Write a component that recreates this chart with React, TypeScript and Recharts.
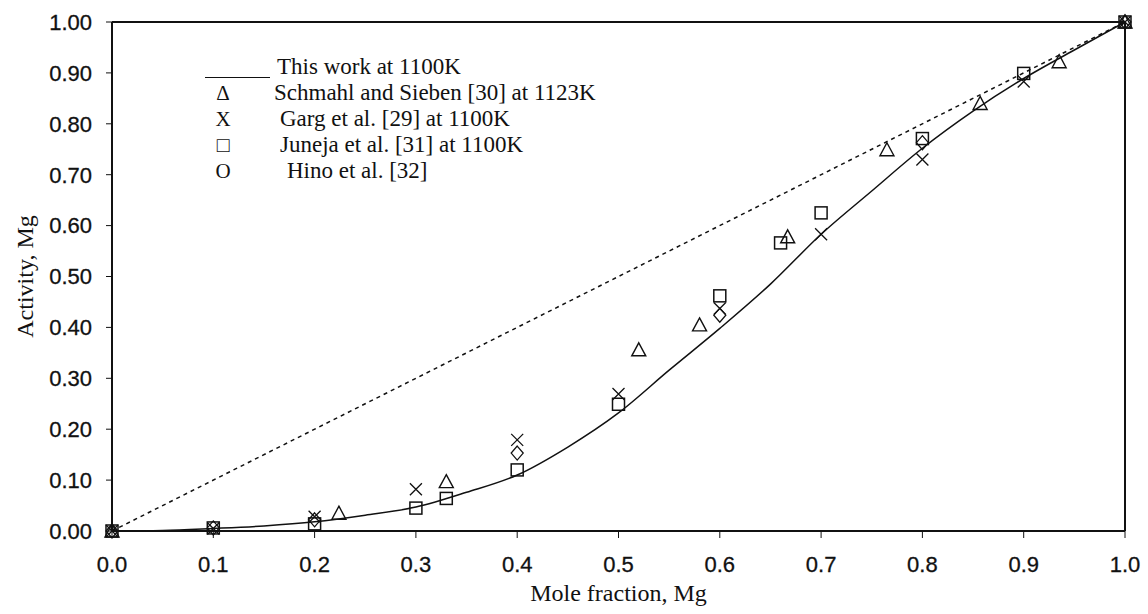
import React from "react";
import {
  ScatterChart,
  Scatter,
  XAxis,
  YAxis,
  ReferenceLine,
  Label,
} from "recharts";

// model curve, this work at 1100K
const curveX = [0, 0.05, 0.1, 0.15, 0.2, 0.25, 0.3, 0.35, 0.4, 0.45, 0.5, 0.55, 0.6, 0.65, 0.7, 0.75, 0.8, 0.85, 0.9, 0.95, 1.0];
const curveY = [0, 0.001, 0.005, 0.01, 0.018, 0.031, 0.047, 0.076, 0.11, 0.165, 0.232, 0.316, 0.398, 0.485, 0.583, 0.668, 0.752, 0.825, 0.889, 0.945, 1.0];

// ideal (Raoult) line
const idealX = [0, 1];
const idealY = [0, 1];

// Schmahl and Sieben [30] at 1123K
const schmahlX = [0, 0.224, 0.33, 0.52, 0.58, 0.667, 0.765, 0.857, 0.935, 1.0];
const schmahlY = [0, 0.035, 0.097, 0.356, 0.405, 0.578, 0.749, 0.84, 0.922, 1.0];

// Garg et al. [29] at 1100K
const gargX = [0, 0.1, 0.2, 0.3, 0.4, 0.5, 0.6, 0.7, 0.8, 0.9, 1.0];
const gargY = [0, 0.005, 0.028, 0.082, 0.179, 0.269, 0.437, 0.583, 0.73, 0.883, 1.0];

// Juneja et al. [31] at 1100K
const junejaX = [0, 0.1, 0.2, 0.3, 0.33, 0.4, 0.5, 0.6, 0.66, 0.7, 0.8, 0.9, 1.0];
const junejaY = [0, 0.006, 0.014, 0.045, 0.064, 0.12, 0.249, 0.462, 0.566, 0.625, 0.771, 0.899, 1.0];

// Hino et al. [32]
const hinoX = [0, 0.1, 0.2, 0.4, 0.6, 0.8, 1.0];
const hinoY = [0, 0.006, 0.022, 0.153, 0.424, 0.763, 1.0];

const xTicks = [0, 0.1, 0.2, 0.3, 0.4, 0.5, 0.6, 0.7, 0.8, 0.9, 1.0];
const yTicks = [0, 0.1, 0.2, 0.3, 0.4, 0.5, 0.6, 0.7, 0.8, 0.9, 1.0];

const legendRows = [
  { sym: "Δ", text: "Schmahl and Sieben [30] at 1123K", indent: 274 },
  { sym: "X", text: "Garg et al. [29] at 1100K", indent: 280 },
  { sym: "□", text: "Juneja et al. [31] at 1100K", indent: 280 },
  { sym: "O", text: "Hino et al. [32]", indent: 287 },
];

const toPoints = (xs: number[], ys: number[]) => xs.map((x, i) => ({ x, y: ys[i] }));

const serif = "'Liberation Serif', 'Times New Roman', serif";
const sans = "'Liberation Sans', Arial, sans-serif";
const ink = "#111";

const Triangle = (p: any) => (
  <path
    d={`M${p.cx},${p.cy - 7} L${p.cx + 7},${p.cy + 6} L${p.cx - 7},${p.cy + 6} Z`}
    fill="none"
    stroke={ink}
    strokeWidth={1.4}
  />
);

const Cross = (p: any) => (
  <path
    d={`M${p.cx - 6},${p.cy - 6} L${p.cx + 6},${p.cy + 6} M${p.cx + 6},${p.cy - 6} L${p.cx - 6},${p.cy + 6}`}
    stroke={ink}
    strokeWidth={1.3}
  />
);

const Square = (p: any) => (
  <rect x={p.cx - 6} y={p.cy - 6} width={12} height={12} fill="none" stroke={ink} strokeWidth={1.5} />
);

const Diamond = (p: any) => (
  <path
    d={`M${p.cx},${p.cy - 7} L${p.cx + 6},${p.cy} L${p.cx},${p.cy + 7} L${p.cx - 6},${p.cy} Z`}
    fill="none"
    stroke={ink}
    strokeWidth={1.3}
  />
);

const NoDot = () => <g />;

const tickStyle = { fill: ink, fontSize: 22, fontFamily: sans, stroke: ink, strokeWidth: 0.3 };

const ROW = 26;
const legendText = {
  position: "absolute" as const,
  fontFamily: serif,
  fontSize: 23,
  lineHeight: `${ROW}px`,
  height: ROW,
  color: ink,
  whiteSpace: "nowrap" as const,
};

export default function App() {
  return (
    <div style={{ position: "absolute", left: 0, top: 0, width: 1148, height: 614, background: "#fff" }}>
      <ScatterChart width={1148} height={614} margin={{ top: 22, right: 23, bottom: 43, left: 12 }}>
        <XAxis
          type="number"
          dataKey="x"
          domain={[0, 1]}
          ticks={xTicks}
          tickFormatter={(v: number) => v.toFixed(1)}
          interval={0}
          height={40}
          tickSize={7}
          tickMargin={18}
          axisLine={{ stroke: ink, strokeWidth: 2 }}
          tickLine={{ stroke: ink }}
          tick={tickStyle}
        >
          <Label
            value="Mole fraction, Mg"
            position="bottom"
            offset={13}
            style={{ fill: ink, fontSize: 24, fontFamily: serif }}
          />
        </XAxis>
        <YAxis
          type="number"
          dataKey="y"
          domain={[0, 1]}
          ticks={yTicks}
          tickFormatter={(v: number) => v.toFixed(2)}
          interval={0}
          width={100}
          tickSize={6}
          tickMargin={14}
          axisLine={{ stroke: ink, strokeWidth: 2 }}
          tickLine={{ stroke: ink }}
          tick={tickStyle}
        >
          <Label
            value="Activity, Mg"
            angle={-90}
            position="insideLeft"
            offset={12}
            style={{ fill: ink, fontSize: 24, fontFamily: serif, textAnchor: "middle" }}
          />
        </YAxis>

        {/* plot frame: top and right edges */}
        <ReferenceLine y={1} stroke={ink} strokeWidth={2} />
        <ReferenceLine x={1} stroke={ink} strokeWidth={2} />

        <Scatter
          data={toPoints(idealX, idealY)}
          line={{ stroke: ink, strokeWidth: 1.5, strokeDasharray: "4 4" }}
          shape={NoDot}
          isAnimationActive={false}
        />
        <Scatter
          data={toPoints(curveX, curveY)}
          line={{ stroke: ink, strokeWidth: 1.5 }}
          lineJointType="monotoneX"
          shape={NoDot}
          isAnimationActive={false}
        />
        <Scatter data={toPoints(schmahlX, schmahlY)} shape={Triangle} isAnimationActive={false} />
        <Scatter data={toPoints(gargX, gargY)} shape={Cross} isAnimationActive={false} />
        <Scatter data={toPoints(junejaX, junejaY)} shape={Square} isAnimationActive={false} />
        <Scatter data={toPoints(hinoX, hinoY)} shape={Diamond} isAnimationActive={false} />
      </ScatterChart>

      {/* legend */}
      <div style={{ position: "absolute", left: 205, top: 77, width: 65, borderTop: `1.5px solid ${ink}` }} />
      <div style={{ ...legendText, left: 277, top: 67 - ROW / 2 }}>This work at 1100K</div>
      {legendRows.map((r, i) => (
        <React.Fragment key={r.text}>
          <div style={{ ...legendText, left: 213, width: 20, textAlign: "center", fontSize: 21, top: 67 + (i + 1) * ROW - ROW / 2 }}>
            {r.sym}
          </div>
          <div style={{ ...legendText, left: r.indent, top: 67 + (i + 1) * ROW - ROW / 2 }}>{r.text}</div>
        </React.Fragment>
      ))}
    </div>
  );
}
